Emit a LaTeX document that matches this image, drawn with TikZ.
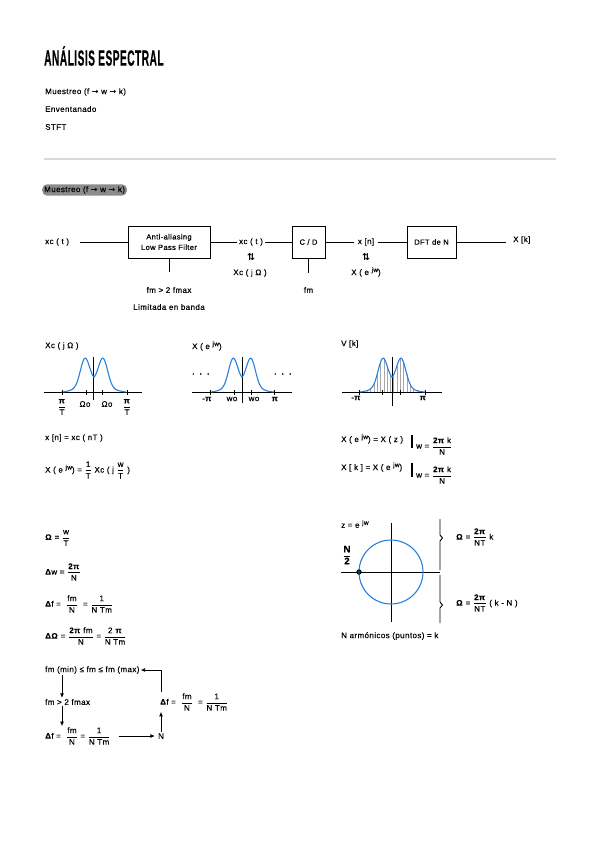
\documentclass[tikz,border=0pt]{standalone}
\usepackage{fontspec}
\usepackage{amsmath}
\setmainfont{Liberation Sans}[LetterSpace=5, FakeBold=0.4]
\newfontfamily\simbolos{DejaVu Sans}
\usetikzlibrary{arrows.meta}
\definecolor{azul}{RGB}{38,128,222}
\newcommand{\fr}[2]{$\dfrac{\text{#1}}{\text{#2}}$}
\newcommand{\jw}{\raisebox{3pt}{\fontsize{6.5}{6.5}\selectfont jw}}
\newcommand{\ejw}{e \jw}
\newcommand{\fl}{{\simbolos\bfseries →}}
\tikzset{
	declare function={
		dist(\u)=(abs(\u)-0.28)/0.2;
		espec(\u)=27*exp(0-dist(\u)*dist(\u))+11*(1-abs(\u))*sqrt(1-abs(\u));
	},
	pics/espectro/.style n args={3}{
		code = {
			\draw[azul, line width=1.1pt] plot[domain=-1:1, samples=101, smooth] ({#1+#3*\x}, {#2-espec(\x)});
		}
	},
	pics/ejes/.style n args={5}{
		code = {
			\draw[line width=0.9pt] (#1-#3, #2) -- (#1+#4, #2);
			\draw[line width=0.9pt] (#1, #2-35) -- (#1, #2+#5);
		}
	}
}

\begin{document}
\begin{tikzpicture}[x=1pt, y=-1pt,
	txt/.style={anchor=west, inner sep=1pt, font=\fontsize{8}{9.5}\selectfont},
	bloque/.style={draw, line width=1pt, align=center, minimum height=32pt, font=\fontsize{7.5}{10.5}\selectfont},
	linea/.style={line width=1pt},
	marca/.style={line width=0.8pt},
	flecha/.style={line width=0.8pt, -{Latex[length=4.5pt, width=4pt]}},
	barra/.style={line width=1.6pt}]

	\useasboundingbox (0,0) rectangle (599,848);

	% cabecera
	\node[anchor=west, inner sep=0pt] (titulo) at (44,56) {\scalebox{0.46}[1]{\fontsize{22}{22}\selectfont\bfseries ANÁLISIS ESPECTRAL}};
	\node[txt] (item1) at (44,92) {Muestreo (f \fl\ w \fl\ k)};
	\node[txt] (item2) at (44,109) {Enventanado};
	\node[txt] (item3) at (44,127) {STFT};
	\draw[line width=2.5pt, black!15] (44,159) -- (556,159);

	\node[txt, fill=black!45, rounded corners=5pt, inner xsep=2pt, inner ysep=2pt] (seccion) at (42,190) {Muestreo (f \fl\ w \fl\ k)};

	% diagrama de bloques
	\node[txt] (xc) at (44,242) {xc ( t )};
	\coordinate (entrada) at (80,242);
	\node[bloque, minimum width=82pt] (filtro) at (169,242) {Anti-aliasing\\Low Pass Filter};
	\node[txt, anchor=center, inner sep=2pt] (xct) at (251,242) {xc ( t )};
	\node[bloque, minimum width=33pt] (cd) at (308.5,242) {C / D};
	\node[txt, anchor=center, inner sep=4pt] (xn) at (366,242) {x [n]};
	\node[bloque, minimum width=49pt] (dft) at (431.5,242) {DFT de N};
	\coordinate (salida) at (506,242);
	\node[txt] (Xk) at (512,240) {X [k]};

	\draw[linea] (entrada) -- (filtro.west);
	\draw[linea] (filtro.east) -- (xct.west);
	\draw[linea] (xct.east) -- (cd.west);
	\draw[linea] (cd.east) -- (xn.west);
	\draw[linea] (xn.east) -- (dft.west);
	\draw[linea] (dft.east) -- (salida);

	\coordinate (pie1) at (169,272);
	\coordinate (pie2) at (308.5,273);
	\draw[linea] (filtro.south) -- (pie1);
	\draw[linea] (cd.south) -- (pie2);

	\node[txt, anchor=center, font=\fontsize{9.5}{9.5}\selectfont\bfseries] (par1) at (251,257) {\simbolos ⇅};
	\node[txt, anchor=center] (Xcj) at (250,273) {Xc ( j Ω )};
	\node[txt, anchor=center, font=\fontsize{9.5}{9.5}\selectfont\bfseries] (par2) at (366,257) {\simbolos ⇅};
	\node[txt, anchor=center] (Xejw) at (366,272) {X ( \ejw )};
	\node[txt, anchor=center] (cond1) at (169,290) {fm > 2 fmax};
	\node[txt, anchor=center] (banda) at (169,307) {Limitada en banda};
	\node[txt, anchor=center] (fm) at (308.5,290) {fm};

	% espectros
	\node[txt] (tit1) at (44,346) {Xc ( j Ω )};
	\node[txt] (tit2) at (191,346) {X ( \ejw )};
	\node[txt] (tit3) at (340,344) {V [k]};

	\pic{ejes={93}{392}{49}{49}{8}};
	\pic{espectro={94}{392}{32.5}};
	\foreach \t in {62,86,102,127} \draw[marca] (\t,390) -- (\t,395);
	\node[txt, anchor=center] (pi1) at (62,407) {\fr{\textbf{π}}{T}};
	\node[txt, anchor=center] (om1) at (85,404) {Ωo};
	\node[txt, anchor=center] (om2) at (107,404) {Ωo};
	\node[txt, anchor=center] (pi2) at (127,407) {\fr{\textbf{π}}{T}};

	\pic{ejes={242}{392}{50}{50}{11}};
	\pic{espectro={242}{392}{32}};
	\foreach \t in {210,234,251,274} \draw[marca] (\t,390) -- (\t,395);
	\node[txt, anchor=center] (pun1) at (201,374) {\textbf{.\ \ .\ \ .}};
	\node[txt, anchor=center] (pun2) at (283,374) {\textbf{.\ \ .\ \ .}};
	\node[txt, anchor=center] (mpi2) at (207,399) {\textbf{-π}};
	\node[txt, anchor=center] (wo1) at (232,399) {wo};
	\node[txt, anchor=center] (wo2) at (254,399) {wo};
	\node[txt, anchor=center] (ppi2) at (275,399) {\textbf{π}};

	\foreach \u in {-0.95,-0.85,...,0.96}
		\draw[black!35, line width=0.4pt] ({392+33*\u},392) -- ({392+33*\u},{392-espec(\u)});
	\pic{ejes={392}{392}{50}{50}{14}};
	\pic{espectro={392}{392}{33}};
	\foreach \t in {359,382,400,425} \draw[marca] (\t,390) -- (\t,395);
	\node[txt, anchor=center] (mpi3) at (356,398) {\textbf{-π}};
	\node[txt, anchor=center] (ppi3) at (423,398) {\textbf{π}};

	% relaciones
	\node[txt] (muestras) at (44,438) {x [n] = xc ( nT )};
	\node[txt] (relacion) at (44,470) {X ( \ejw ) = \fr{1}{T} Xc ( j \fr{w}{T} )};

	\node[txt] (eqz) at (340,439) {X ( \ejw ) = X ( z )};
	\draw[barra] (412,435) -- (412,448);
	\node[txt] (wk1) at (415,446) {w = \fr{\textbf{2π} k}{N}};
	\node[txt] (eqk) at (340,467) {X [ k ] = X ( \ejw )};
	\draw[barra] (412,463) -- (412,477);
	\node[txt] (wk2) at (415,475) {w = \fr{\textbf{2π} k}{N}};

	% resolucion
	\node[txt] (omega) at (44,538) {\textbf{Ω} = \fr{w}{T}};
	\node[txt] (dw) at (44,572) {\textbf{Δ}w = \fr{\textbf{2π}}{N}};
	\node[txt] (df) at (44,604) {\textbf{Δ}f = \ \fr{fm}{N} \ = \fr{1}{N Tm}};
	\node[txt] (dom) at (44,636) {\textbf{ΔΩ} = \fr{\textbf{2π} fm}{N} = \fr{2 \textbf{π}}{N Tm}};

	% circulo unidad
	\node[txt] (zeq) at (340,524) {z = e \jw};
	\draw[line width=0.9pt] (341,572) -- (440,572);
	\draw[line width=0.9pt] (391,523) -- (391,622);
	\draw[azul, line width=1.1pt] (391,572) circle[radius=32];
	\draw[line width=0.9pt, fill=azul!50!black] (359,572) circle[radius=2.2];
	\node[anchor=center, inner sep=0pt, font=\fontsize{9.5}{10}\selectfont\bfseries] (mitad) at (347,555) {\fr{N}{2}};
	\draw[line width=0.9pt] (440,519) -- (440,535) -- (442.5,538) -- (440,541) -- (440,570);
	\draw[line width=0.9pt] (440,575) -- (440,602) -- (442.5,605) -- (440,608) -- (440,623);
	\node[txt] (omk1) at (455,537) {\textbf{Ω} = \fr{\textbf{2π}}{NT} k};
	\node[txt] (omk2) at (455,603) {\textbf{Ω} = \fr{\textbf{2π}}{NT} ( k - N )};
	\node[txt] (arm) at (340,636) {N armónicos (puntos) = k};

	% eleccion de fm
	\node[txt] (rango) at (44,670) {fm (min) ≤ fm ≤ fm (max)};
	\node[txt] (cond) at (44,702) {fm > 2 fmax};
	\node[txt] (df1) at (44,736) {\textbf{Δ}f = \ \fr{fm}{N} = \fr{1}{N Tm}};
	\node[txt, anchor=center] (nn) at (161,736) {N};
	\node[txt] (df2) at (159,702) {\textbf{Δ}f = \ \fr{fm}{N} \ = \fr{1}{N Tm}};

	\draw[flecha] ([xshift=18pt]rango.south west) -- ([xshift=18pt]cond.north west);
	\draw[flecha] ([xshift=18pt]cond.south west) -- ([xshift=18pt]df1.north west);
	\draw[flecha, shorten <=7pt, shorten >=2pt] (df1.east) -- (nn.west);
	\draw[flecha] (nn.north) -- (nn.north |- df2.south);
	\draw[flecha] (nn.north |- df2.north) |- (rango.east);

\end{tikzpicture}
\end{document}
